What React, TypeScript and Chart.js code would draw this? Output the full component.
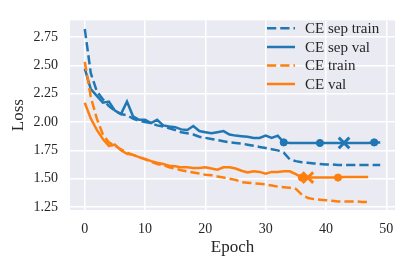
import React, { useEffect, useRef } from "react";
import { Chart, registerables } from "chart.js";
Chart.register(...registerables);

// ---- data ----
const sepTrain = [2.82, 2.43, 2.27, 2.2, 2.14, 2.1, 2.07, 2.06, 2.03, 2.01, 2.0, 1.99, 1.97, 1.96, 1.945, 1.93, 1.91, 1.9, 1.89, 1.87, 1.86, 1.85, 1.84, 1.83, 1.82, 1.815, 1.81, 1.8, 1.79, 1.78, 1.77, 1.76, 1.75, 1.73, 1.67, 1.655, 1.645, 1.64, 1.635, 1.63, 1.625, 1.625, 1.62, 1.62, 1.62, 1.62, 1.62, 1.62, 1.62, 1.62];
const sepVal = [2.47, 2.29, 2.23, 2.17, 2.18, 2.1, 2.07, 2.18, 2.05, 2.02, 2.02, 1.99, 2.02, 1.97, 1.96, 1.955, 1.935, 1.93, 1.965, 1.92, 1.91, 1.9, 1.91, 1.92, 1.89, 1.88, 1.875, 1.87, 1.86, 1.86, 1.88, 1.86, 1.88, 1.82, 1.815, 1.815, 1.815, 1.815, 1.815, 1.815, 1.815, 1.815, 1.815, 1.815, 1.815, 1.815, 1.815, 1.815, 1.82, 1.82];
const ceTrain = [2.53, 2.22, 2.03, 1.89, 1.82, 1.79, 1.76, 1.73, 1.71, 1.69, 1.67, 1.65, 1.63, 1.62, 1.6, 1.59, 1.575, 1.565, 1.555, 1.545, 1.535, 1.53, 1.52, 1.51, 1.5, 1.49, 1.47, 1.465, 1.46, 1.455, 1.45, 1.44, 1.43, 1.425, 1.42, 1.41, 1.36, 1.33, 1.32, 1.315, 1.31, 1.305, 1.3, 1.3, 1.3, 1.3, 1.295, 1.295];
const ceVal = [2.17, 2.03, 1.93, 1.85, 1.79, 1.8, 1.75, 1.72, 1.71, 1.69, 1.675, 1.655, 1.64, 1.63, 1.615, 1.61, 1.6, 1.6, 1.595, 1.595, 1.6, 1.59, 1.58, 1.6, 1.6, 1.59, 1.57, 1.555, 1.565, 1.56, 1.545, 1.56, 1.56, 1.565, 1.565, 1.54, 1.51, 1.51, 1.51, 1.51, 1.51, 1.51, 1.51, 1.515, 1.515, 1.515, 1.515, 1.515];

const sepValCircles = [33, 39, 48];
const sepValCross = [43];
const ceValCircles = [36, 42];
const ceValCross = [37];

const xTicks = [0, 10, 20, 30, 40, 50];
const yTicks = [1.25, 1.5, 1.75, 2.0, 2.25, 2.5, 2.75];
const labels = ["CE sep train", "CE sep val", "CE train", "CE val"];

const BLUE = "#1f77b4";
const ORANGE = "#ff7f0e";
const TEXT = "#262626";
const FONT = "'Liberation Serif', 'Times New Roman', serif";
const DASH = [9.25, 4];

const toXY = (arr: number[]) => arr.map((y, i) => ({ x: i, y }));

const markerOpts = (circles: number[], cross: number[], color: string) => ({
  pointStyle: (ctx: any) => (cross.includes(ctx.dataIndex) ? "crossRot" : "circle"),
  pointRadius: (ctx: any) =>
    cross.includes(ctx.dataIndex) ? 7.5 : circles.includes(ctx.dataIndex) ? 3.6 : 0,
  pointBorderWidth: (ctx: any) => (cross.includes(ctx.dataIndex) ? 3 : 1),
  pointBackgroundColor: color,
  pointBorderColor: color,
  pointHoverRadius: 0,
});

const bgPlugin = {
  id: "bg",
  beforeDraw(chart: any) {
    const { ctx, chartArea: a } = chart;
    ctx.save();
    ctx.fillStyle = "#ffffff";
    ctx.fillRect(0, 0, chart.width, chart.height);
    ctx.fillStyle = "#EAEAF2";
    ctx.fillRect(a.left, a.top, a.right - a.left, a.bottom - a.top);
    ctx.restore();
  },
};

const legendPlugin = {
  id: "customLegend",
  afterDraw(chart: any) {
    const { ctx } = chart;
    const rows = [28.3, 47, 65.5, 84];
    ctx.save();
    chart.data.datasets.forEach((ds: any, i: number) => {
      const y = rows[i];
      ctx.beginPath();
      ctx.strokeStyle = ds.borderColor;
      ctx.lineWidth = 2.5;
      ctx.setLineDash(ds.borderDash || []);
      ctx.moveTo(267, y);
      ctx.lineTo(295, y);
      ctx.stroke();
      ctx.setLineDash([]);
      ctx.fillStyle = TEXT;
      ctx.font = `15px ${FONT}`;
      ctx.textBaseline = "middle";
      ctx.textAlign = "left";
      ctx.fillText(ds.label, 305, y + 1);
    });
    ctx.restore();
  },
};

export default function App() {
  const ref = useRef<HTMLCanvasElement | null>(null);
  useEffect(() => {
    if (!ref.current) return;
    const base = { borderWidth: 2.5, tension: 0, fill: false };
    const chart = new Chart(ref.current, {
      type: "line",
      data: {
        datasets: [
          { ...base, label: labels[0], data: toXY(sepTrain), borderColor: BLUE, backgroundColor: BLUE, borderDash: DASH, pointRadius: 0, order: 4 },
          { ...base, label: labels[1], data: toXY(sepVal), borderColor: BLUE, backgroundColor: BLUE, order: 3, ...markerOpts(sepValCircles, sepValCross, BLUE) },
          { ...base, label: labels[2], data: toXY(ceTrain), borderColor: ORANGE, backgroundColor: ORANGE, borderDash: DASH, pointRadius: 0, order: 2 },
          { ...base, label: labels[3], data: toXY(ceVal), borderColor: ORANGE, backgroundColor: ORANGE, order: 1, ...markerOpts(ceValCircles, ceValCross, ORANGE) },
        ] as any,
      },
      options: {
        animation: false,
        responsive: false,
        layout: { padding: { top: 12, right: 12, left: 0, bottom: 0 } },
        plugins: { legend: { display: false }, tooltip: { enabled: false } },
        scales: {
          x: {
            type: "linear",
            min: -2.45,
            max: 51.45,
            afterBuildTicks: (s: any) => {
              s.ticks = xTicks.map((v) => ({ value: v }));
            },
            afterFit: (s: any) => {
              s.height = 58;
            },
            grid: { color: "#ffffff", lineWidth: 1.5, drawTicks: false },
            border: { display: false },
            ticks: {
              font: { family: FONT, size: 14 },
              color: TEXT,
              padding: 11,
              maxRotation: 0,
              autoSkip: false,
              callback: (v: any) => String(v),
            },
            title: {
              display: true,
              text: "Epoch",
              font: { family: FONT, size: 17 },
              color: TEXT,
              padding: { top: 0, bottom: 10 },
            },
          },
          y: {
            type: "linear",
            min: 1.224,
            max: 2.896,
            afterBuildTicks: (s: any) => {
              s.ticks = yTicks.map((v) => ({ value: v }));
            },
            afterFit: (s: any) => {
              s.width = 70;
            },
            grid: { color: "#ffffff", lineWidth: 1.5, drawTicks: false },
            border: { display: false },
            ticks: {
              font: { family: FONT, size: 14 },
              color: TEXT,
              padding: 12,
              autoSkip: false,
              callback: (v: any) => Number(v).toFixed(2),
            },
            title: {
              display: true,
              text: "Loss",
              font: { family: FONT, size: 17 },
              color: TEXT,
              padding: { top: 8, bottom: 0 },
            },
          },
        },
      } as any,
      plugins: [bgPlugin, legendPlugin],
    });
    return () => chart.destroy();
  }, []);
  return (
    <div style={{ position: "fixed", left: 0, top: 0, width: 407, height: 268 }}>
      <canvas ref={ref} width={407} height={268} style={{ width: 407, height: 268 }} />
    </div>
  );
}
